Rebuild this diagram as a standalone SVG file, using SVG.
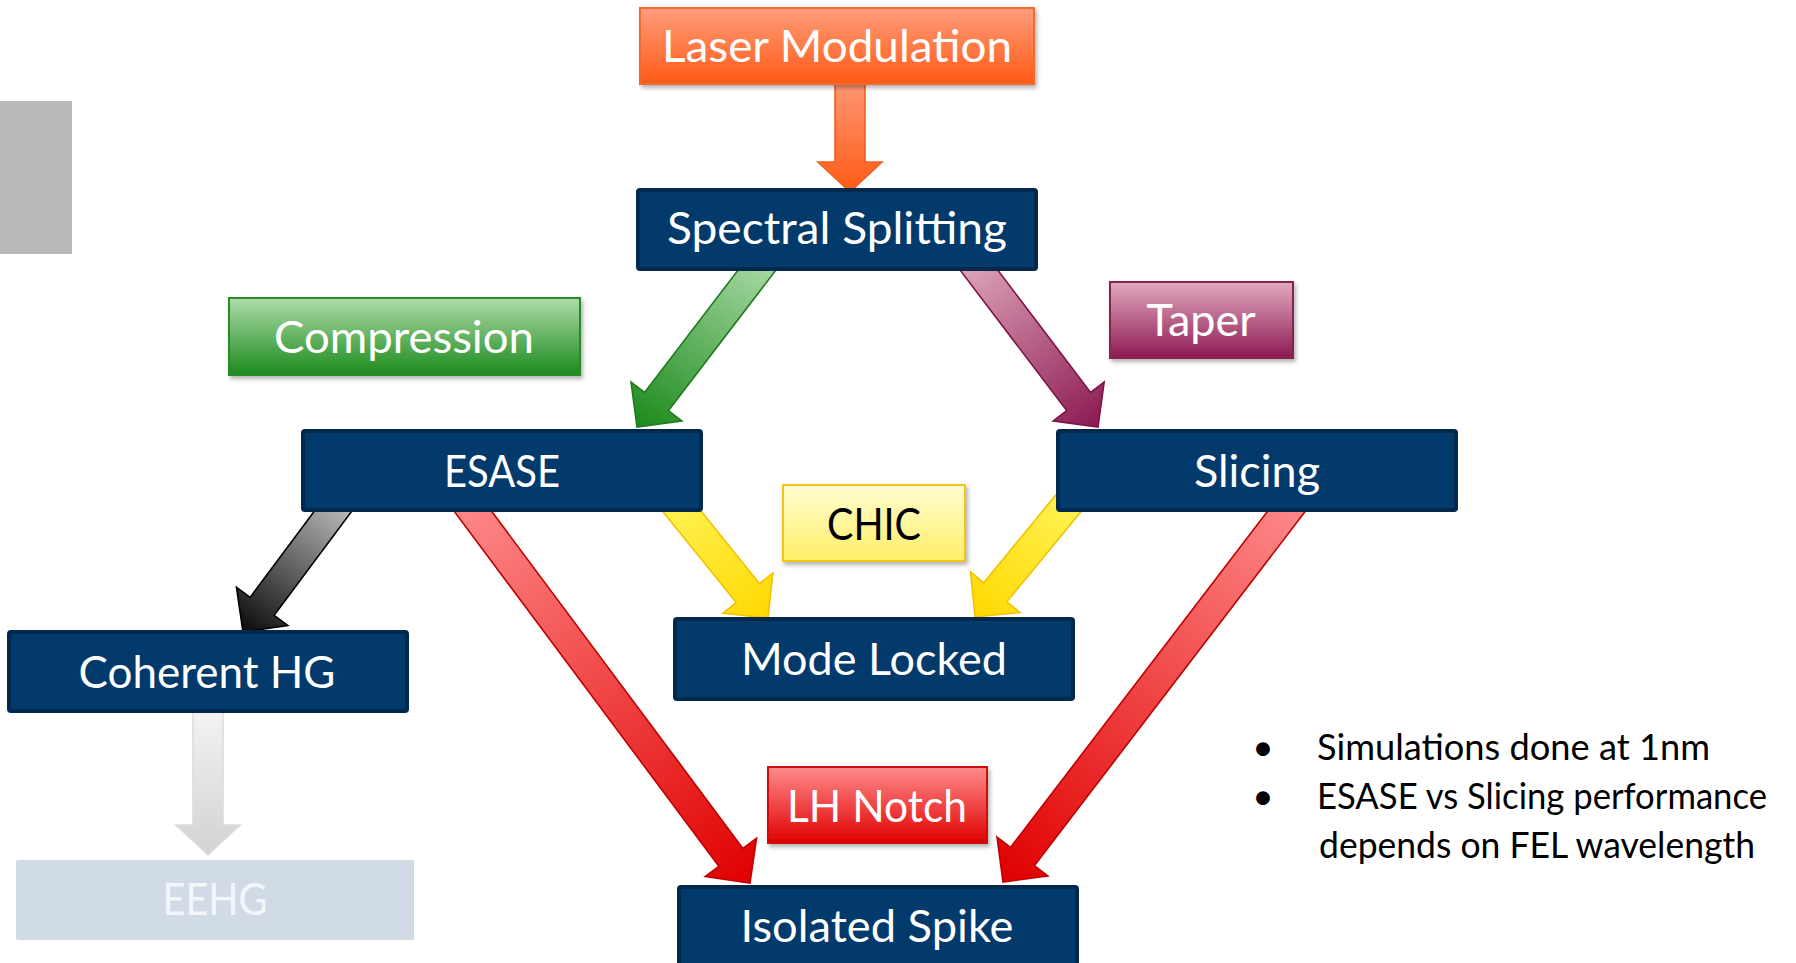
<svg xmlns="http://www.w3.org/2000/svg" width="1796" height="963" viewBox="0 0 1796 963">
<defs>
  <linearGradient id="gOrange" x1="0" y1="0" x2="0" y2="1"><stop offset="0" stop-color="#FF9C7C"/><stop offset="1" stop-color="#FF5A14"/></linearGradient>
  <linearGradient id="gGreen" x1="0" y1="0" x2="0" y2="1"><stop offset="0" stop-color="#AEDCAA"/><stop offset="1" stop-color="#1C8A1C"/></linearGradient>
  <linearGradient id="gMaroon" x1="0" y1="0" x2="0" y2="1"><stop offset="0" stop-color="#E2AABF"/><stop offset="1" stop-color="#8C1A52"/></linearGradient>
  <linearGradient id="gYellow" x1="0" y1="0" x2="0" y2="1"><stop offset="0" stop-color="#FFFCD2"/><stop offset="1" stop-color="#FFEE66"/></linearGradient>
  <linearGradient id="gRed" x1="0" y1="0" x2="0" y2="1"><stop offset="0" stop-color="#FF8C8C"/><stop offset="1" stop-color="#E00000"/></linearGradient>

  <linearGradient id="aOrange" x1="0" y1="0" x2="1" y2="0"><stop offset="0" stop-color="#FF9C7C"/><stop offset="1" stop-color="#FF5A14"/></linearGradient>
  <linearGradient id="aGreen" x1="0" y1="0" x2="1" y2="0"><stop offset="0" stop-color="#AEDCAA"/><stop offset="1" stop-color="#1C8A1C"/></linearGradient>
  <linearGradient id="aMaroon" x1="0" y1="0" x2="1" y2="0"><stop offset="0" stop-color="#E0AABD"/><stop offset="1" stop-color="#8C1A52"/></linearGradient>
  <linearGradient id="aBlack" x1="0" y1="0" x2="1" y2="0"><stop offset="0" stop-color="#C4C4C4"/><stop offset="1" stop-color="#0A0A0A"/></linearGradient>
  <linearGradient id="aGray" x1="0" y1="0" x2="1" y2="0"><stop offset="0" stop-color="#F5F5F5"/><stop offset="1" stop-color="#D2D2D2"/></linearGradient>
  <linearGradient id="aYellow" x1="0" y1="0" x2="1" y2="0"><stop offset="0" stop-color="#FFF45A"/><stop offset="1" stop-color="#FFD800"/></linearGradient>
  <linearGradient id="aRed" x1="0" y1="0" x2="1" y2="0"><stop offset="0" stop-color="#FF8C8C"/><stop offset="1" stop-color="#E00000"/></linearGradient>

  <filter id="shadow" x="-10%" y="-10%" width="120%" height="130%">
    <feDropShadow dx="2" dy="3" stdDeviation="2" flood-color="#000" flood-opacity="0.3"/>
  </filter>
</defs>
<style>
  .navy { fill: #013A6B; stroke: #02284E; stroke-width: 4; }
  .lbl { font-family: Lato, "Open Sans", sans-serif; font-size: 44px; fill: #FFFFFF; text-anchor: middle; }
  .note { font-family: Lato, "Open Sans", sans-serif; font-size: 37px; fill: #000000; }
  .arrow { stroke-width: 1.6; stroke-linejoin: miter; }
</style>

<rect x="0" y="101" width="72" height="153" fill="#BABABA"/>

<g id="connectors">
  <polygon class="arrow" fill="url(#aOrange)" stroke="#F06020" transform="translate(850,192) rotate(90)" points="-118,-15 -30,-15 -30,-32 0,0 -30,32 -30,15 -118,15"/>
  <polygon class="arrow" fill="url(#aGreen)" stroke="#1E7B1E" transform="translate(637,427) rotate(127.4)" points="-218,-15 -32,-15 -32,-32 0,0 -32,32 -32,15 -218,15"/>
  <polygon class="arrow" fill="url(#aMaroon)" stroke="#7C1446" transform="translate(1098,427) rotate(52.8)" points="-217,-15 -32,-15 -32,-32 0,0 -32,32 -32,15 -217,15"/>
  <polygon class="arrow" fill="url(#aBlack)" stroke="#000000" transform="translate(243,632) rotate(126.7)" points="-172,-15 -32,-15 -32,-32 0,0 -32,32 -32,15 -172,15"/>
  <polygon class="arrow" fill="url(#aGray)" stroke="#DDDDDD" transform="translate(208,855) rotate(90)" points="-154,-15 -30,-15 -30,-32 0,0 -30,32 -30,15 -154,15"/>
  <polygon class="arrow" fill="url(#aYellow)" stroke="#F5C000" transform="translate(768,618) rotate(51.1)" points="-160,-15 -32,-15 -32,-32 0,0 -32,32 -32,15 -160,15"/>
  <polygon class="arrow" fill="url(#aYellow)" stroke="#F5C000" transform="translate(975,617) rotate(129.4)" points="-160,-15 -32,-15 -32,-32 0,0 -32,32 -32,15 -160,15"/>
  <polygon class="arrow" fill="url(#aRed)" stroke="#C00000" transform="translate(750,883) rotate(53.3)" points="-485,-15 -32,-15 -32,-32 0,0 -32,32 -32,15 -485,15"/>
  <polygon class="arrow" fill="url(#aRed)" stroke="#C00000" transform="translate(1003,882) rotate(127.4)" points="-488,-15 -32,-15 -32,-32 0,0 -32,32 -32,15 -488,15"/>
</g>

<g id="laser-modulation">
  <rect x="640" y="8" width="394" height="76" fill="url(#gOrange)" stroke="#F06A30" stroke-width="2" filter="url(#shadow)"/>
  <text class="lbl" x="837" y="62" textLength="350" lengthAdjust="spacingAndGlyphs">Laser Modulation</text>
</g>

<g id="spectral-splitting">
  <rect class="navy" x="638" y="190" width="398" height="79" rx="2"/>
  <text class="lbl" x="837" y="244" textLength="340" lengthAdjust="spacingAndGlyphs">Spectral Splitting</text>
</g>

<g id="compression">
  <rect x="229" y="298" width="351" height="77" fill="url(#gGreen)" stroke="#2A8A2A" stroke-width="2" filter="url(#shadow)"/>
  <text class="lbl" x="404" y="353" textLength="260" lengthAdjust="spacingAndGlyphs">Compression</text>
</g>

<g id="taper">
  <rect x="1110" y="282" width="183" height="76" fill="url(#gMaroon)" stroke="#8A2050" stroke-width="2" filter="url(#shadow)"/>
  <text class="lbl" x="1201" y="336" textLength="109" lengthAdjust="spacingAndGlyphs">Taper</text>
</g>

<g id="esase">
  <rect class="navy" x="303" y="431" width="398" height="79" rx="2"/>
  <text class="lbl" x="502" y="487" textLength="116" lengthAdjust="spacingAndGlyphs">ESASE</text>
</g>

<g id="slicing">
  <rect class="navy" x="1058" y="431" width="398" height="79" rx="2"/>
  <text class="lbl" x="1257" y="487" textLength="126" lengthAdjust="spacingAndGlyphs">Slicing</text>
</g>

<g id="chic">
  <rect x="783" y="485" width="182" height="76" fill="url(#gYellow)" stroke="#F5C518" stroke-width="2" filter="url(#shadow)"/>
  <text class="lbl" x="874" y="540" textLength="94" lengthAdjust="spacingAndGlyphs" style="fill:#000">CHIC</text>
</g>

<g id="coherent-hg">
  <rect class="navy" x="9" y="632" width="398" height="79" rx="2"/>
  <text class="lbl" x="207" y="688" textLength="257" lengthAdjust="spacingAndGlyphs">Coherent HG</text>
</g>

<g id="mode-locked">
  <rect class="navy" x="675" y="619" width="398" height="80" rx="2"/>
  <text class="lbl" x="874" y="675" textLength="266" lengthAdjust="spacingAndGlyphs">Mode Locked</text>
</g>

<g id="lh-notch">
  <rect x="768" y="767" width="219" height="76" fill="url(#gRed)" stroke="#D01010" stroke-width="2" filter="url(#shadow)"/>
  <text class="lbl" x="877" y="822" textLength="180" lengthAdjust="spacingAndGlyphs">LH Notch</text>
</g>

<g id="eehg">
  <rect x="16" y="860" width="398" height="80" rx="2" fill="#D0DBE6"/>
  <text class="lbl" x="215" y="915" textLength="105" lengthAdjust="spacingAndGlyphs" style="fill:#F4F7FA">EEHG</text>
</g>

<g id="isolated-spike">
  <rect class="navy" x="679" y="887" width="398" height="80" rx="2"/>
  <text class="lbl" x="877" y="942" textLength="273" lengthAdjust="spacingAndGlyphs">Isolated Spike</text>
</g>

<g id="notes">
  <text class="note" x="1263" y="760" text-anchor="middle">•</text>
  <text class="note" x="1317" y="760" textLength="393" lengthAdjust="spacingAndGlyphs">Simulations done at 1nm</text>
  <text class="note" x="1263" y="809" text-anchor="middle">•</text>
  <text class="note" x="1317" y="809" textLength="450" lengthAdjust="spacingAndGlyphs">ESASE vs Slicing performance</text>
  <text class="note" x="1319" y="858" textLength="436" lengthAdjust="spacingAndGlyphs">depends on FEL wavelength</text>
</g>
</svg>
